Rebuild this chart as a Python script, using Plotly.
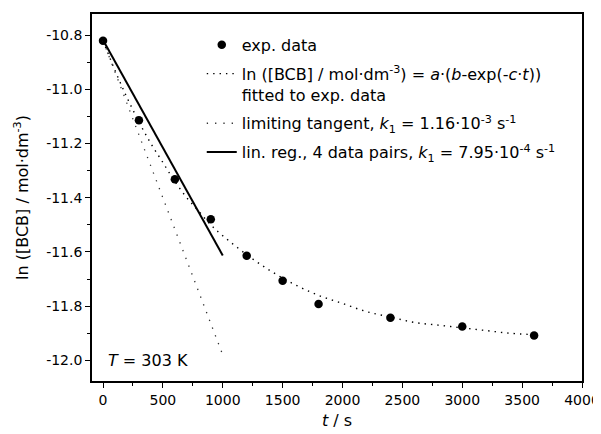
import plotly.graph_objects as go

# ---- data ----
t_exp = [0, 300, 600, 900, 1200, 1500, 1800, 2400, 3000, 3600]
ln_exp = [-10.821, -11.114, -11.332, -11.479, -11.614, -11.706, -11.792, -11.843, -11.875, -11.908]

t_fit = [0, 100, 200, 300, 400, 500, 600, 700, 800, 900, 1000, 1200, 1400,
         1600, 1800, 2000, 2200, 2400, 2600, 2800, 3000, 3200, 3400, 3600]
ln_fit = [-10.82, -10.93, -11.03, -11.12, -11.20, -11.27, -11.34, -11.40, -11.45,
          -11.50, -11.54, -11.61, -11.67, -11.72, -11.76, -11.79, -11.82, -11.84,
          -11.86, -11.87, -11.88, -11.89, -11.90, -11.905]

t_tan = [0, 1000]
ln_tan = [-10.82, -11.98]

t_lin = [0, 1000]
ln_lin = [-10.818, -11.613]

x_ticks = [0, 500, 1000, 1500, 2000, 2500, 3000, 3500, 4000]
y_ticks = [-10.8, -11.0, -11.2, -11.4, -11.6, -11.8, -12.0]

FONT = "DejaVu Sans"

fig = go.Figure()
fig.add_trace(go.Scatter(
    x=t_exp, y=ln_exp, mode="markers", name="exp. data", legendgroup="a",
    marker=dict(color="black", size=8.5, symbol="circle")))
fig.add_trace(go.Scatter(
    x=t_fit, y=ln_fit, mode="lines", legendgroup="b",
    name="ln ([BCB] / mol·dm<sup>-3</sup>) = <i>a</i>·(<i>b</i>-exp(-<i>c</i>·<i>t</i>))<br>fitted to exp. data",
    line=dict(color="black", width=1.4, dash="1.4px,5px", shape="spline")))
fig.add_trace(go.Scatter(
    x=t_tan, y=ln_tan, mode="lines", legendgroup="c",
    name="limiting tangent, <i>k</i><sub>1</sub> = 1.16·10<sup>-3</sup> s<sup>-1</sup>",
    line=dict(color="#333333", width=1.3, dash="1.3px,7px")))
fig.add_trace(go.Scatter(
    x=t_lin, y=ln_lin, mode="lines", legendgroup="d",
    name="lin. reg., 4 data pairs, <i>k</i><sub>1</sub> = 7.95·10<sup>-4</sup> s<sup>-1</sup>",
    line=dict(color="black", width=2)))

fig.add_annotation(
    text="<i>T</i> = 303 K", xref="paper", yref="y", x=0.028, y=-12.0,
    xanchor="left", yanchor="middle", showarrow=False,
    font=dict(family=FONT, size=16, color="black"))

axis_common = dict(
    showgrid=False, zeroline=False, showline=True, linecolor="black", linewidth=1.6,
    mirror=True, ticks="outside", ticklen=5, tickwidth=1.4, tickcolor="black",
    tickfont=dict(family=FONT, size=14, color="black"),
)

fig.update_xaxes(
    **axis_common, range=[-92, 4000], tickvals=x_ticks,
    ticktext=[str(v) for v in x_ticks],
    minor=dict(ticks="outside", ticklen=3, tickwidth=1.2, tickcolor="black", dtick=250, tick0=0),
    title=dict(text="<i>t</i> / s", font=dict(family=FONT, size=16, color="black"), standoff=8),
)
fig.update_yaxes(
    **axis_common, range=[-12.076, -10.722], tickvals=y_ticks,
    ticktext=[f"{v:.1f}" for v in y_ticks],
    minor=dict(ticks="outside", ticklen=3, tickwidth=1.2, tickcolor="black", dtick=0.1, tick0=-12.0),
    title=dict(text="ln ([BCB] / mol·dm<sup>-3</sup>)", font=dict(family=FONT, size=16, color="black"), standoff=14),
)

# the page body adds an 8px offset, so the figure is 8px smaller and top/left margins shifted
fig.update_layout(
    width=593, height=426,
    margin=dict(l=84, r=19, t=6, b=53, autoexpand=False),
    paper_bgcolor="white", plot_bgcolor="white",
    font=dict(family=FONT, size=15, color="black"),
    legend=dict(x=0.224, y=0.962, xanchor="left", yanchor="top", bgcolor="rgba(0,0,0,0)",
                font=dict(family=FONT, size=16, color="black"), valign="top",
                tracegroupgap=5, itemwidth=30),
    showlegend=True,
)

fig.write_html("out.html")
